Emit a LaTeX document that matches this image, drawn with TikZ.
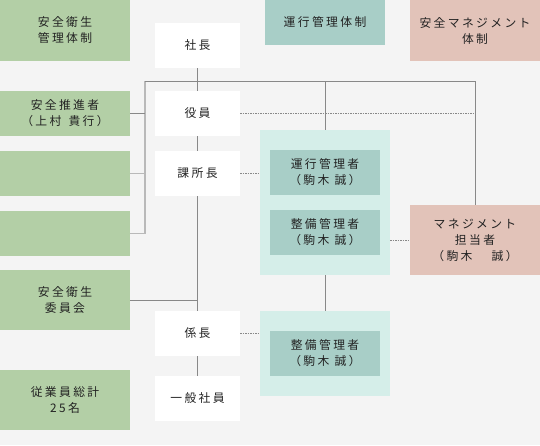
\documentclass[tikz,border=0pt]{standalone}
\usepackage{fontspec}
\setmainfont{Noto Sans CJK JP}[LetterSpace=20]
\usepackage{tikz}
\usetikzlibrary{calc}
\definecolor{bgc}{HTML}{F4F4F4}
\definecolor{greenc}{HTML}{B3CFA6}
\definecolor{tealc}{HTML}{A8CEC7}
\definecolor{paletealc}{HTML}{D5EEE9}
\definecolor{pinkc}{HTML}{E2C3B9}
\definecolor{txtc}{HTML}{222222}
\definecolor{linec}{HTML}{888888}
\tikzset{
  orgbox/.style={rectangle, draw=none, align=center, inner sep=0pt,
                 text=txtc, font=\fontsize{11.8}{16}\selectfont},
  greenbox/.style={orgbox, fill=greenc, minimum width=130pt},
  rolebox/.style={orgbox, fill=white, minimum width=85pt, minimum height=45pt},
  tealbox/.style={orgbox, fill=tealc},
  pinkbox/.style={orgbox, fill=pinkc, minimum width=130pt},
  groupbox/.style={rectangle, draw=none, fill=paletealc, minimum width=130pt},
  solidline/.style={draw=linec, line width=0.8pt},
  paleline/.style={draw=gray!55, line width=1.6pt},
  dotline/.style={draw=linec, line width=0.7pt, dash pattern=on 1.5pt off 1pt},
}
\begin{document}
\begin{tikzpicture}[x=1pt, y=-1pt]
    \useasboundingbox[fill=bgc] (0,0) rectangle (540,445);

    % left column
    \node[greenbox, minimum height=61pt] (G1) at (65, 30.5)  {安全衛生\\管理体制};
    \node[greenbox, minimum height=45pt] (G2) at (65, 113.5) {安全推進者\\（上村\hspace{0.6em}貴行）};
    \node[greenbox, minimum height=45pt] (G3) at (65, 173.5) {};
    \node[greenbox, minimum height=45pt] (G4) at (65, 233.5) {};
    \node[greenbox, minimum height=60pt] (G5) at (65, 300)   {安全衛生\\委員会};
    \node[greenbox, minimum height=60pt] (G6) at (65, 400)   {従業員総計\\25名};

    % headers
    \node[tealbox, minimum width=120pt, minimum height=45pt] (HT) at (325, 22.5) {運行管理体制};
    \node[pinkbox, minimum height=61pt] (HP) at (475, 30.5) {安全マネジメント\\体制};

    % groups
    \node[groupbox, minimum height=145pt] (C1) at (325, 202.5) {};
    \node[groupbox, minimum height=85pt]  (C2) at (325, 353.5) {};
    \node[tealbox, minimum width=110pt, minimum height=45pt] (UK) at (325, 172.5) {運行管理者\\（駒木\hspace{0.45em}誠）};
    \node[tealbox, minimum width=110pt, minimum height=45pt] (SK) at (325, 232.5) {整備管理者\\（駒木\hspace{0.45em}誠）};
    \node[tealbox, minimum width=110pt, minimum height=45pt] (SK2) at (325, 353.5) {整備管理者\\（駒木\hspace{0.45em}誠）};
    \node[pinkbox, minimum height=70pt] (MG) at (475, 240) {マネジメント\\担当者\\（駒木　 誠）};

    % roles
    \node[rolebox] (PR) at (197.5, 45.5)  {社長};
    \node[rolebox] (YI) at (197.5, 113.5) {役員};
    \node[rolebox] (KS) at (197.5, 173.5) {課所長};
    \node[rolebox] (KC) at (197.5, 333.5) {係長};
    \node[rolebox] (IP) at (197.5, 398.5) {一般社員};

    % bus lines
    \coordinate (busL) at (145, 81);
    \coordinate (busR) at (475, 81);
    \draw[paleline] (G3.east) -- (busL |- G3.east);
    \draw[paleline] (G4.east) -- (busL |- G4.east) -- (busL);
    \draw[solidline] (G2.east) -- (busL |- G2.east);
    \draw[solidline] (busL) -- (busR) -- (MG.north);
    \draw[solidline] (C1.north) -- (C1.north |- busL);

    % chain of roles
    \draw[solidline] (PR) -- (YI);
    \draw[solidline] (YI) -- (KS);
    \draw[solidline] (KS) -- (KC);
    \draw[solidline] (KC) -- (IP);
    \draw[solidline] (G5.east) -- (G5.east -| KC.north);
    \draw[solidline] (C1.south) -- (C2.north);

    % dotted links
    \draw[dotline] (YI.east) -- (YI.east -| MG.north);
    \draw[dotline] (KS.east) -- (C1.west |- KS.east);
    \draw[dotline] (C1.east |- MG.west) -- (MG.west);
    \draw[dotline] (KC.east) -- (C2.west |- KC.east);
\end{tikzpicture}
\end{document}
